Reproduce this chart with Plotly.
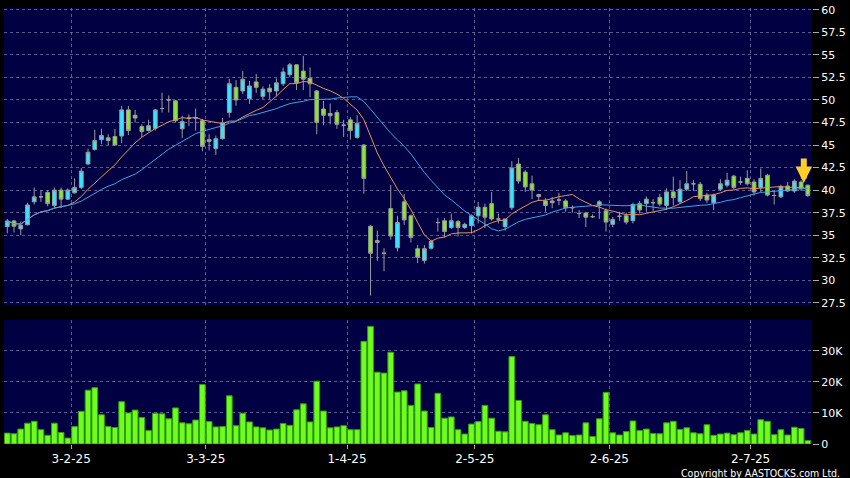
import numpy as np
import pandas as pd
import plotly.graph_objects as go

# ---------------- data ----------------
holidays = ['2025-01-29', '2025-01-30', '2025-01-31', '2025-04-04', '2025-04-18',
            '2025-04-21', '2025-05-01', '2025-05-05', '2025-07-01']
dates = [d.strftime('%Y-%m-%d') for d in pd.bdate_range('2025-01-16', '2025-07-15')
         if d.strftime('%Y-%m-%d') not in holidays]

open_ = [35.95, 36.58, 35.7, 36.15, 38.7, 39.25, 39.75, 38.3, 40.0, 39.0,
         39.7, 40.3, 42.9, 44.5, 45.6, 45.5, 45.95, 46.0, 48.9, 48.3,
         47.05, 46.6, 46.85, 49.05, 50.0, 49.9, 46.8, 48.0, 48.0, 47.7,
         45.6, 44.6, 45.7, 48.6, 51.4, 51.0, 50.15, 52.0, 50.4, 51.3,
         51.0, 51.8, 52.8, 53.9, 53.2, 52.4, 51.0, 49.0, 48.25, 48.6,
         47.2, 47.8, 45.85, 45.0, 36.0, 34.4, 33.0, 37.95, 33.6, 38.7,
         37.15, 33.5, 32.2, 33.55, 36.4, 36.6, 35.85, 36.5, 35.85, 36.05,
         37.15, 38.1, 38.5, 36.8, 35.95, 38.05, 42.9, 42.0, 40.7, 39.5,
         38.8, 38.6, 38.9, 38.8, 38.05, 37.4, 37.45, 37.05, 38.7, 37.7,
         36.2, 37.1, 37.15, 36.6, 38.5, 38.5, 38.6, 39.2, 38.3, 39.8,
         38.7, 40.1, 40.7, 40.65, 39.45, 38.6, 40.1, 40.55, 41.55, 40.9,
         41.3, 40.9, 40.3, 41.65, 39.4, 39.25, 40.45, 39.9, 40.9, 40.55]
high = [36.8, 36.7, 36.5, 38.6, 40.3, 40.0, 40.0, 40.3, 40.3, 40.2,
        41.3, 42.45, 44.6, 46.7, 46.8, 46.2, 46.8, 49.35, 49.35, 48.9,
        47.3, 47.8, 49.0, 50.8, 50.5, 50.0, 48.25, 48.4, 49.05, 47.9,
        46.2, 46.05, 48.0, 52.35, 52.2, 53.2, 52.1, 52.9, 51.5, 51.75,
        52.4, 53.6, 54.1, 53.95, 54.9, 53.6, 51.1, 49.9, 49.6, 48.9,
        47.8, 48.1, 48.3, 45.1, 36.1, 35.5, 33.55, 40.55, 37.15, 39.6,
        37.3, 33.9, 33.9, 34.5, 36.9, 36.9, 37.4, 36.7, 36.4, 37.3,
        38.7, 38.5, 39.8, 37.4, 36.8, 43.2, 43.55, 42.2, 41.6, 39.6,
        39.1, 39.25, 39.7, 39.0, 38.3, 37.8, 37.6, 37.3, 38.9, 37.95,
        37.0, 37.6, 37.5, 38.6, 38.8, 39.3, 39.0, 39.6, 40.2, 41.5,
        41.1, 42.1, 41.1, 40.9, 39.7, 39.6, 41.2, 41.9, 41.7, 41.5,
        42.2, 41.2, 42.4, 41.8, 39.9, 40.6, 40.9, 41.2, 41.1, 40.6]
low = [35.2, 35.3, 35.0, 36.1, 38.4, 38.7, 38.2, 38.0, 38.0, 38.9,
       39.6, 40.1, 42.75, 44.4, 45.1, 45.0, 44.95, 45.2, 46.1, 47.5,
       45.9, 46.5, 46.6, 48.6, 48.6, 47.5, 45.75, 47.1, 46.6, 44.3,
       44.4, 43.9, 45.6, 48.05, 49.35, 50.65, 49.55, 50.8, 50.1, 50.1,
       50.4, 51.55, 52.5, 51.1, 51.1, 50.3, 46.2, 47.2, 47.3, 46.8,
       45.9, 45.6, 45.7, 39.6, 28.3, 32.15, 31.0, 34.5, 33.2, 36.15,
       34.2, 31.9, 31.85, 33.4, 35.4, 34.75, 35.7, 34.85, 35.7, 35.2,
       36.3, 35.8, 36.6, 36.3, 35.5, 37.8, 40.7, 39.8, 39.0, 38.8,
       37.6, 38.0, 38.35, 37.6, 37.5, 36.9, 35.9, 36.9, 36.8, 35.4,
       35.9, 36.6, 36.2, 36.3, 37.4, 37.6, 37.7, 38.2, 37.8, 38.3,
       38.5, 39.9, 39.9, 38.8, 38.6, 37.8, 39.9, 40.3, 40.1, 40.6,
       40.5, 39.4, 39.8, 39.3, 38.4, 39.1, 39.8, 39.7, 39.9, 39.25]
close = [36.58, 36.0, 36.1, 38.35, 39.25, 39.25, 38.5, 40.0, 39.0, 40.0,
         40.3, 42.1, 44.2, 45.5, 46.05, 45.8, 45.0, 48.9, 46.6, 48.0,
         46.5, 47.15, 48.9, 49.05, 50.0, 47.7, 47.6, 48.0, 48.0, 44.85,
         45.4, 45.7, 47.45, 51.8, 50.0, 52.3, 51.55, 51.4, 51.2, 50.9,
         51.9, 53.1, 53.9, 51.9, 52.3, 51.8, 47.5, 48.3, 48.5, 47.3,
         47.2, 46.6, 47.4, 41.3, 33.0, 34.2, 33.0, 34.9, 36.4, 36.7,
         34.75, 32.55, 33.5, 34.3, 36.4, 35.4, 36.6, 35.85, 36.2, 37.15,
         38.1, 37.0, 36.8, 36.8, 36.8, 42.45, 41.0, 40.35, 40.0, 39.3,
         38.3, 38.8, 38.9, 38.05, 38.05, 37.4, 37.0, 37.05, 38.3, 36.45,
         36.75, 37.1, 36.45, 38.4, 37.8, 39.0, 38.6, 38.45, 39.8, 39.15,
         40.1, 40.7, 40.7, 39.05, 38.9, 39.45, 40.7, 41.1, 40.3, 40.9,
         40.7, 39.8, 41.3, 39.45, 39.4, 40.35, 39.9, 41.0, 40.15, 39.4]
volume = [3500, 3300, 4800, 6700, 7300, 4600, 2800, 6700, 3700, 1900,
          5600, 10500, 17300, 18100, 9400, 5600, 5300, 13600, 10000, 10900,
          8500, 4300, 9900, 9700, 8100, 11600, 6800, 6500, 7700, 19100,
          7200, 5500, 5600, 15500, 5900, 9900, 7100, 5500, 5200, 4500,
          4800, 6600, 6000, 11000, 12900, 7100, 20200, 10600, 5200, 5500,
          5900, 4600, 4600, 33000, 37800, 23100, 22800, 29500, 16700, 17100,
          12400, 19300, 10600, 5300, 16300, 8300, 8700, 4600, 3200, 6400,
          7200, 12400, 8300, 4100, 3900, 28100, 14000, 7300, 6600, 6200,
          9400, 4600, 2900, 3600, 2700, 2900, 6800, 2400, 8100, 16600,
          3600, 2900, 4000, 7400, 4300, 4800, 3400, 3300, 6800, 7300,
          4700, 5200, 3600, 3300, 6200, 2800, 3200, 3500, 3000, 3600,
          4300, 3200, 7800, 7300, 3000, 4600, 2900, 5400, 5000, 1100]

tick_dates = ['2025-02-03', '2025-03-03', '2025-04-01', '2025-05-02', '2025-06-02', '2025-07-02']
tick_labels = ['3-2-25', '3-3-25', '1-4-25', '2-5-25', '2-6-25', '2-7-25']
price_ticks = [27.5, 30, 32.5, 35, 37.5, 40, 42.5, 45, 47.5, 50, 52.5, 55, 57.5, 60]
vol_ticks = [0, 10000, 20000, 30000]
vol_tick_labels = ['0', '10K', '20K', '30K']

# ---------------- derived ----------------
xs = np.arange(len(dates))
ma10 = pd.Series(close).rolling(10, min_periods=1).mean()
ma20 = pd.Series(close).rolling(20, min_periods=1).mean()
tick_pos = [dates.index(d) + 0.5 for d in tick_dates]

grid_col = 'rgba(120,120,170,0.75)'
grid_dash = '3px,3px'
font_main = 'DejaVu Sans'

fig = go.Figure()
fig.add_trace(go.Candlestick(
    x=xs, open=open_, high=high, low=low, close=close,
    xaxis='x2', yaxis='y', text=dates, hoverinfo='text+y',
    increasing=dict(fillcolor='#2EE8FF', line=dict(color='#9c9c9c', width=1)),
    decreasing=dict(fillcolor='#86EA2A', line=dict(color='#9c9c9c', width=1)),
    whiskerwidth=0, showlegend=False))
fig.add_trace(go.Scatter(x=xs, y=ma10, mode='lines', xaxis='x2', yaxis='y',
                         line=dict(color='#E8935E', width=1), showlegend=False, hoverinfo='skip'))
fig.add_trace(go.Scatter(x=xs, y=ma20, mode='lines', xaxis='x2', yaxis='y',
                         line=dict(color='#3CA6E6', width=1), showlegend=False, hoverinfo='skip'))
fig.add_trace(go.Bar(x=xs, y=volume, xaxis='x', yaxis='y2',
                     marker=dict(color='#6CFF1E', line=dict(color='#3A9A10', width=1)),
                     showlegend=False, text=dates, hoverinfo='text+y', textposition='none'))

xr = [-0.49, 119.62]
common_x = dict(range=xr, showgrid=True, gridcolor=grid_col, griddash=grid_dash, gridwidth=1,
                zeroline=False, showline=False, tickvals=tick_pos, ticktext=tick_labels)

fig.update_layout(
    width=850, height=478,
    paper_bgcolor='#000000', plot_bgcolor='#000042',
    margin=dict(l=4, r=35, t=5, b=34),
    bargap=0.15, boxgap=0.2,
    font=dict(family=font_main, color='#ffffff', size=11),
    xaxis=dict(domain=[0, 1], anchor='y2', ticks='outside', ticklen=4, tickcolor='#aaaaaa',
               tickfont=dict(size=12, color='#ffffff', family=font_main),
               rangeslider=dict(visible=False), **common_x),
    xaxis2=dict(domain=[0, 1], anchor='y', matches='x', showticklabels=False, ticks='',
                rangeslider=dict(visible=False), **common_x),
    yaxis=dict(domain=[0.3166, 1], side='right', range=[27.15, 60.2], tickvals=price_ticks,
               ticks='outside', ticklen=6, tickcolor='#aaaaaa', showgrid=True, gridcolor=grid_col,
               griddash=grid_dash, zeroline=False, showline=False,
               tickfont=dict(size=11, color='#ffffff', family=font_main)),
    yaxis2=dict(domain=[0, 0.2847], side='right', range=[0, 39900], tickvals=vol_ticks,
                ticktext=vol_tick_labels, ticks='outside', ticklen=6, tickcolor='#aaaaaa',
                showgrid=True, gridcolor=grid_col, griddash=grid_dash, zeroline=False, showline=False,
                tickfont=dict(size=11, color='#ffffff', family=font_main)),
    hovermode='closest',
)

# down arrow marker
fig.add_annotation(xref='x2', yref='y', x=118.4, y=40.8, ax=0, ay=-26, text='',
                   showarrow=True, arrowhead=2, arrowsize=0.55, arrowwidth=6,
                   arrowcolor='#FFCF26', standoff=0)
fig.add_annotation(xref='paper', yref='paper', x=1.037, y=-0.066, xanchor='right', yanchor='middle',
                   text='Copyright by AASTOCKS.com Ltd.', showarrow=False,
                   font=dict(family='DejaVu Sans Condensed, DejaVu Sans', size=10.5, color='#ffffff'))

fig.write_html('out.html', config={'displayModeBar': False},
               post_script="document.body.style.margin='0px';document.body.style.background='#000';")
